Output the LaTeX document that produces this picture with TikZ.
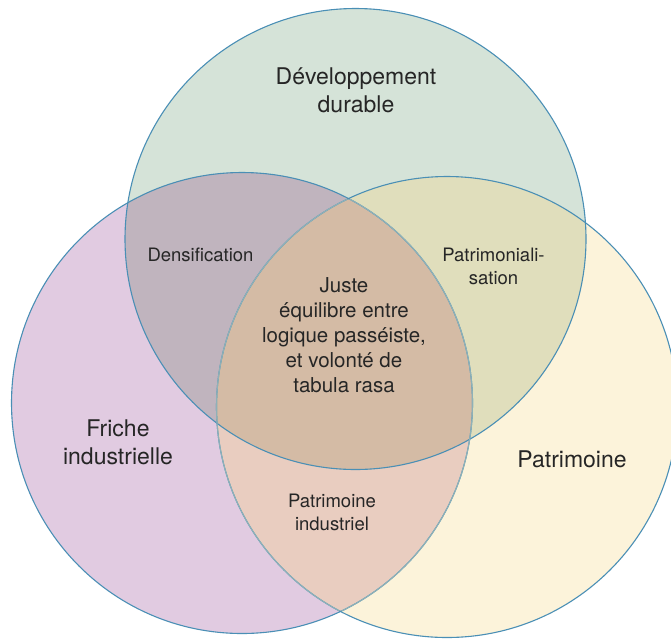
\documentclass[tikz,border=0pt]{standalone}
\usepackage{fontspec}
\setmainfont{TeX Gyre Heros}
\definecolor{ringblue}{HTML}{4A8FB5}
\definecolor{ringsoft}{HTML}{8EB1B8}
\definecolor{fillgreen}{HTML}{D5E3D8}
\definecolor{fillpink}{HTML}{E1CBE1}
\definecolor{fillcream}{HTML}{FCF3DA}
\definecolor{fillGP}{HTML}{C0B4BE}
\definecolor{fillGC}{HTML}{E0DEBC}
\definecolor{fillPC}{HTML}{E9CDC0}
\definecolor{fillall}{HTML}{D4BBA5}
\definecolor{inktext}{HTML}{262626}
\begin{document}
\begin{tikzpicture}[x=1pt,y=-1pt,
  ring/.style={draw=ringblue,line width=1.1pt},
  bigtxt/.style={text=inktext,font=\fontsize{23}{28}\selectfont,align=center,inner sep=0pt},
  smalltxt/.style={text=inktext,font=\fontsize{18.5}{23}\selectfont,align=center,inner sep=0pt},
  midtxt/.style={text=inktext,font=\fontsize{20.5}{25}\selectfont,align=center,inner sep=0pt}]
\useasboundingbox (0,0) rectangle (671,638);
% circle centres and radius
\coordinate (cG) at (355.5,239);
\coordinate (cP) at (242,403);
\coordinate (cC) at (447,407);
\def\rr{230.5}
% single-set fills
\fill[fillgreen] (cG) circle (\rr);
\fill[fillpink] (cP) circle (\rr);
\fill[fillcream] (cC) circle (\rr);
% pairwise overlaps
\begin{scope}\clip (cG) circle (\rr); \fill[fillGP] (cP) circle (\rr); \end{scope}
\begin{scope}\clip (cG) circle (\rr); \fill[fillGC] (cC) circle (\rr); \end{scope}
\begin{scope}\clip (cP) circle (\rr); \fill[fillPC] (cC) circle (\rr); \end{scope}
% triple overlap
\begin{scope}\clip (cG) circle (\rr); \clip (cP) circle (\rr); \fill[fillall] (cC) circle (\rr); \end{scope}
% outlines
\draw[ring] (cG) circle (\rr);
\draw[ring] (cP) circle (\rr);
\draw[ring] (cC) circle (\rr);
% softer arcs where each lower ring runs under the other
\begin{scope}\clip (cC) circle (\rr-1); \draw[draw=ringsoft,line width=1.1pt] (cP) circle (\rr); \end{scope}
\begin{scope}\clip (cP) circle (\rr-1); \draw[draw=ringsoft,line width=1.1pt] (cC) circle (\rr); \end{scope}
% labels
\node[bigtxt] (lG) at (356,90) {Développement\\durable};
\node[bigtxt] (lP) at (118,442) {Friche\\industrielle};
\node[bigtxt] (lC) at (572,459) {Patrimoine};
\node[smalltxt] (lGP) at (200.5,255) {Densification};
\node[smalltxt] (lGC) at (493.5,266.5) {Patrimoniali-\\sation};
\node[smalltxt] (lPC) at (332,512) {Patrimoine\\industriel};
\node[midtxt] (lall) at (344,335) {Juste\\équilibre entre\\logique passéiste,\\et volonté de\\tabula rasa};
\end{tikzpicture}
\end{document}
